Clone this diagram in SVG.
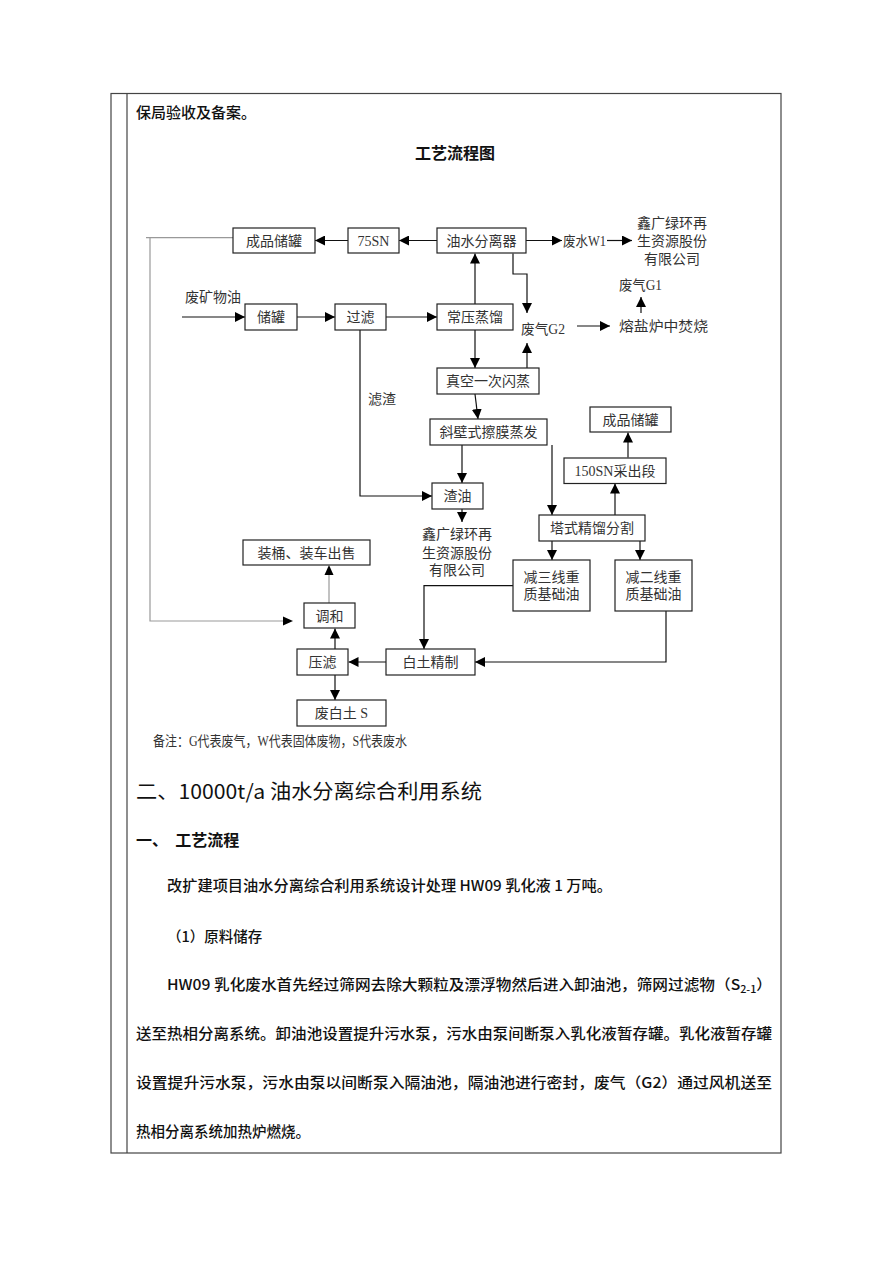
<svg xmlns="http://www.w3.org/2000/svg" width="892" height="1262" viewBox="0 0 892 1262">
<defs>
<marker id="ah" viewBox="0 0 10 10" refX="10" refY="5" markerWidth="10" markerHeight="10" markerUnits="userSpaceOnUse" orient="auto">
<path d="M0,0 L10,5 L0,10 z" fill="#000"/>
</marker>
<style>
.frame{fill:none;stroke:#444;stroke-width:1.2}
.box{fill:#fff;stroke:#222;stroke-width:1.2}
.bt{font-family:"Liberation Serif","Noto Sans CJK SC",serif;font-size:14px;fill:#333;text-anchor:middle}
.ft{font-family:"Liberation Serif","Noto Sans CJK SC",serif;font-size:14px;fill:#333}
.ln{fill:none;stroke:#111;stroke-width:1.2;marker-end:url(#ah)}
.gl{fill:none;stroke:#999;stroke-width:1.2}
.body{font-family:"Noto Sans CJK SC","Liberation Sans",sans-serif;fill:#111}
</style>
</defs>
<rect width="892" height="1262" fill="#fff"/>
<g id="frame">
<rect class="frame" x="111" y="93.5" width="670" height="1059.5"/>
<line class="frame" x1="127" y1="93.5" x2="127" y2="1153"/>
</g>
<text class="body" x="136" y="118" font-size="15" font-weight="500">保局验收及备案。</text>
<text class="body" x="455" y="159" font-size="16" font-weight="bold" text-anchor="middle">工艺流程图</text>

<g id="connectors">
<line class="ln" x1="437" y1="240.5" x2="399" y2="240.5"/>
<line class="ln" x1="348" y1="240.5" x2="315" y2="240.5"/>
<line class="ln" x1="526" y1="240.5" x2="562" y2="240.5"/>
<line class="ln" x1="607" y1="240.5" x2="632" y2="240.5"/>
<line class="ln" x1="475" y1="304" x2="475" y2="253.5"/>
<polyline class="ln" points="513,253.5 513,274 527,274 527,313"/>
<line class="ln" x1="577" y1="326" x2="610" y2="326"/>
<line class="ln" x1="641" y1="313" x2="641" y2="297"/>
<line class="ln" x1="527" y1="368" x2="527" y2="343"/>
<line class="ln" x1="475" y1="330" x2="475" y2="368"/>
<line class="ln" x1="182" y1="317" x2="245" y2="317"/>
<line class="ln" x1="297" y1="317" x2="335" y2="317"/>
<line class="ln" x1="386" y1="317" x2="437" y2="317"/>
<polyline class="ln" points="360,330 360,496 432,496"/>
<line class="ln" x1="475" y1="394" x2="478" y2="419"/>
<line class="ln" x1="462" y1="445" x2="462" y2="483"/>
<line class="ln" x1="462" y1="509" x2="462" y2="522"/>
<line class="ln" x1="552" y1="445" x2="552" y2="515"/>
<line class="ln" x1="615" y1="515" x2="615" y2="483.5"/>
<line class="ln" x1="628" y1="457.5" x2="628" y2="432.5"/>
<line class="ln" x1="552" y1="541" x2="552" y2="560"/>
<line class="ln" x1="640" y1="541" x2="640" y2="560"/>
<polyline class="ln" points="513,585.7 424,585.7 424,649"/>
<polyline class="ln" points="666,611 666,662 475,662"/>
<line class="ln" x1="386" y1="662" x2="348.5" y2="662"/>
<line class="ln" x1="335" y1="649" x2="335" y2="628.5"/>
<line class="ln" x1="335" y1="675" x2="335" y2="700"/>
<line class="gl" x1="329" y1="603" x2="329" y2="575"/>
<path d="M324.5,575 L329,565 L333.5,575 z" fill="#000"/>
<polyline class="gl" points="233,237.7 146,237.7"/>
<polyline class="gl" points="150,237.7 150,621 284,621"/>
<path d="M283,616.5 L293,621 L283,625.5 z" fill="#000"/>
</g>

<g id="n-chengpin1"><rect class="box" x="233" y="228" width="82" height="25"/><text class="bt" x="274" y="245.5">成品储罐</text></g>
<g id="n-75sn"><rect class="box" x="348" y="228" width="51" height="25"/><text class="bt" x="373.5" y="245.5">75SN</text></g>
<g id="n-youshui"><rect class="box" x="437" y="228" width="89" height="25"/><text class="bt" x="481.5" y="245.5">油水分离器</text></g>
<g id="n-chuguan"><rect class="box" x="245" y="304" width="52" height="26"/><text class="bt" x="271" y="322">储罐</text></g>
<g id="n-guolv"><rect class="box" x="335" y="304" width="51" height="26"/><text class="bt" x="360.5" y="322">过滤</text></g>
<g id="n-changya"><rect class="box" x="437" y="304" width="76" height="26"/><text class="bt" x="475" y="322">常压蒸馏</text></g>
<g id="n-zhenkong"><rect class="box" x="437" y="368" width="102" height="26"/><text class="bt" x="488" y="386">真空一次闪蒸</text></g>
<g id="n-xiebi"><rect class="box" x="430" y="419" width="117" height="26"/><text class="bt" x="488.5" y="437">斜壁式擦膜蒸发</text></g>
<g id="n-zhayou"><rect class="box" x="432" y="483" width="51" height="26"/><text class="bt" x="457.5" y="501">渣油</text></g>
<g id="n-chengpin2"><rect class="box" x="590" y="407" width="81" height="25"/><text class="bt" x="630.5" y="424.5">成品储罐</text></g>
<g id="n-150sn"><rect class="box" x="564" y="458" width="102" height="25.5"/><text class="bt" x="615" y="476">150SN采出段</text></g>
<g id="n-tashi"><rect class="box" x="539" y="515" width="106" height="26"/><text class="bt" x="592" y="533">塔式精馏分割</text></g>
<g id="n-jian3"><rect class="box" x="513" y="560" width="77" height="51"/><text class="bt" x="551.5" y="581.5">减三线重</text><text class="bt" x="551.5" y="598.5">质基础油</text></g>
<g id="n-jian2"><rect class="box" x="615" y="560" width="77" height="51"/><text class="bt" x="653.5" y="581.5">减二线重</text><text class="bt" x="653.5" y="598.5">质基础油</text></g>
<g id="n-zhuangtong"><rect class="box" x="243" y="540" width="127" height="25"/><text class="bt" x="306.5" y="557.5">装桶、装车出售</text></g>
<g id="n-tiaohe"><rect class="box" x="304" y="603" width="51" height="25"/><text class="bt" x="329.5" y="620.5">调和</text></g>
<g id="n-yalv"><rect class="box" x="297" y="649" width="51" height="26"/><text class="bt" x="322.5" y="667">压滤</text></g>
<g id="n-baitu"><rect class="box" x="386" y="649" width="89" height="26"/><text class="bt" x="430.5" y="667">白土精制</text></g>
<g id="n-feibaitu"><rect class="box" x="297" y="700" width="89" height="26"/><text class="bt" x="341.5" y="718">废白土 S</text></g>

<g id="labels">
<text class="ft" x="563" y="245.5" textLength="43" lengthAdjust="spacingAndGlyphs">废水W1</text>
<text class="bt" x="672" y="228">鑫广绿环再</text>
<text class="bt" x="672" y="246">生资源股份</text>
<text class="bt" x="672" y="264">有限公司</text>
<text class="ft" x="619" y="290" textLength="43" lengthAdjust="spacingAndGlyphs">废气G1</text>
<text class="ft" x="619" y="331" textLength="89" lengthAdjust="spacingAndGlyphs">熔盐炉中焚烧</text>
<text class="ft" x="521" y="334" textLength="44" lengthAdjust="spacingAndGlyphs">废气G2</text>
<text class="ft" x="185" y="302">废矿物油</text>
<text class="ft" x="368" y="404">滤渣</text>
<text class="bt" x="457" y="539">鑫广绿环再</text>
<text class="bt" x="457" y="557.5">生资源股份</text>
<text class="bt" x="457" y="575">有限公司</text>
<text class="ft" x="153" y="746" font-size="10" textLength="254" lengthAdjust="spacingAndGlyphs">备注：G代表废气，W代表固体废物，S代表废水</text>
</g>

<g id="body">
<text class="body" x="136" y="799" font-size="20" textLength="346" lengthAdjust="spacingAndGlyphs">二、10000t/a 油水分离综合利用系统</text>
<text class="body" x="136" y="846" font-size="16" font-weight="bold" xml:space="preserve">一、  工艺流程</text>
<text class="body" x="167" y="891" font-size="14.5" font-weight="500" textLength="445" lengthAdjust="spacingAndGlyphs">改扩建项目油水分离综合利用系统设计处理 HW09 乳化液 1 万吨。</text>
<text class="body" x="167" y="942" font-size="14.5" font-weight="500">（1）原料储存</text>
<text class="body" x="167" y="990" font-size="14.5" font-weight="500" textLength="605" lengthAdjust="spacingAndGlyphs">HW09 乳化废水首先经过筛网去除大颗粒及漂浮物然后进入卸油池，筛网过滤物（S<tspan font-size="10" dy="3">2-1</tspan><tspan dy="-3">）</tspan></text>
<text class="body" x="136" y="1039" font-size="14.5" font-weight="500" textLength="636" lengthAdjust="spacingAndGlyphs">送至热相分离系统。卸油池设置提升污水泵，污水由泵间断泵入乳化液暂存罐。乳化液暂存罐</text>
<text class="body" x="136" y="1088" font-size="14.5" font-weight="500" textLength="636" lengthAdjust="spacingAndGlyphs">设置提升污水泵，污水由泵以间断泵入隔油池，隔油池进行密封，废气（G2）通过风机送至</text>
<text class="body" x="136" y="1137" font-size="14.5" font-weight="500">热相分离系统加热炉燃烧。</text>
</g>
</svg>
